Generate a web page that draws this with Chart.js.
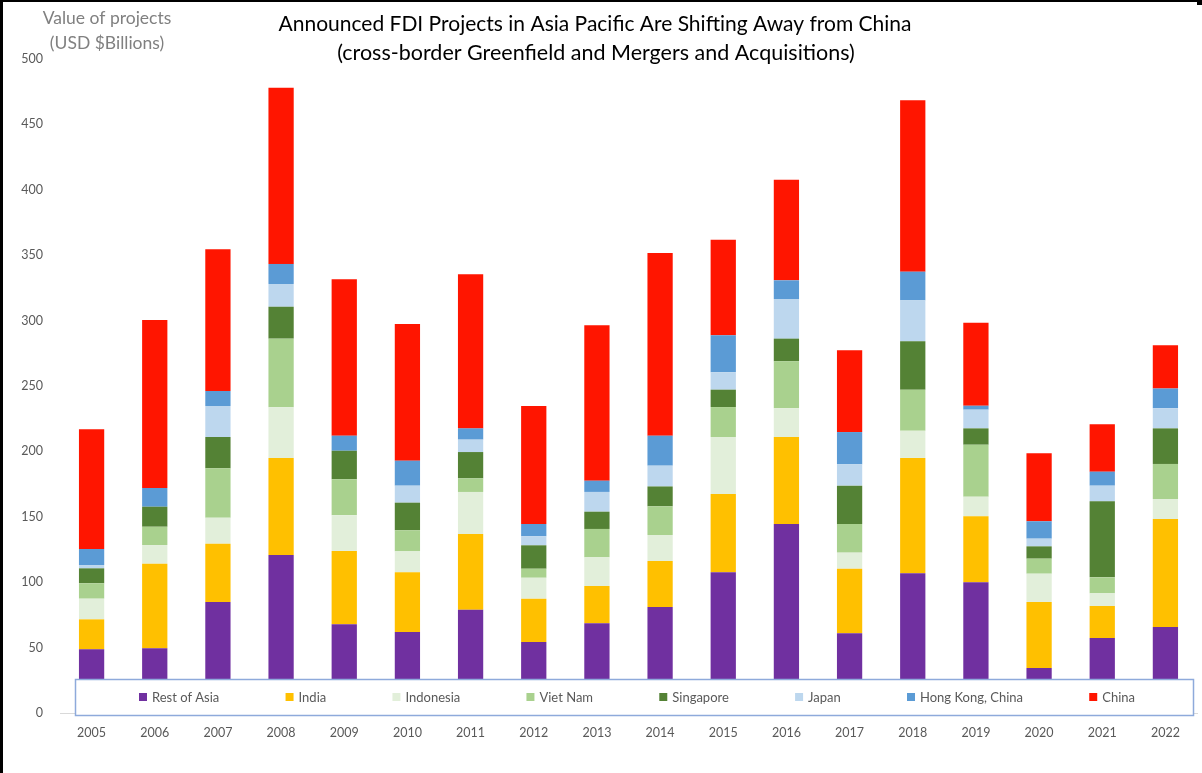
<!DOCTYPE html>
<html><head><meta charset="utf-8">
<script src="https://cdn.jsdelivr.net/npm/chart.js"></script>
<style>
html,body{margin:0;padding:0;background:#fff;overflow:hidden}
canvas{display:block}
</style></head><body>
<canvas id="c" width="1202" height="773"></canvas>
<script>
const years = ['2005','2006','2007','2008','2009','2010','2011','2012','2013','2014','2015','2016','2017','2018','2019','2020','2021','2022'];
const restOfAsia = [48.7,49.5,84.9,120.8,67.8,61.9,79.0,54.3,68.6,81.0,107.6,144.5,60.9,106.8,99.9,34.4,57.3,65.7];
const india      = [22.9,64.6,44.5,74.2,56.1,45.7,57.9,33.1,28.5,35.2,59.8,66.5,49.4,88.2,50.5,50.5,24.5,82.6];
const indonesia  = [15.8,14.3,19.9,38.7,27.2,16.0,32.1,16.0,21.9,19.9,43.6,22.0,12.3,20.8,15.0,21.6,9.7,15.3];
const vietNam    = [11.8,14.0,37.8,52.5,27.6,16.1,10.4,6.9,21.7,21.9,22.9,35.9,21.9,31.4,39.7,11.5,12.2,26.8];
const singapore  = [11.4,15.3,23.9,24.4,21.8,21.1,20.1,17.9,13.2,15.2,13.3,17.3,29.3,37.0,12.5,9.4,58.1,27.2];
const japan      = [2.5,0,23.7,17.4,0,13.0,9.5,6.9,15.1,15.9,13.3,30.3,16.3,31.3,14.3,5.9,12.0,15.4];
const hongKong   = [12.3,14.3,11.5,15.3,11.5,19.1,8.6,9.4,8.6,22.9,28.3,14.3,24.7,21.9,3.0,13.3,10.7,15.1];
const china      = [91.5,128.5,108.3,134.8,119.6,104.5,117.8,90.2,118.8,139.7,73.1,76.9,62.5,131.0,63.5,51.9,36.2,33.1];
const seriesNames = ['Rest of Asia','India','Indonesia','Viet Nam','Singapore','Japan','Hong Kong, China','China'];
const seriesColors = ['#7030a0','#ffc000','#e2efda','#a9d18e','#548235','#bdd7ee','#5b9bd5','#ff1500'];
const seriesValues = [restOfAsia,india,indonesia,vietNam,singapore,japan,hongKong,china];
const titleLines = ['Announced FDI Projects in Asia Pacific Are Shifting Away from China','(cross-border Greenfield and Mergers and Acquisitions)'];
const yTitleLines = ['Value of projects','(USD $Billions)'];

const FONT = 'Lato, "Open Sans", sans-serif';

const overlay = {
  id: 'overlay',
  afterDraw(chart) {
    const ctx = chart.ctx;
    ctx.save();
    // title
    ctx.fillStyle = '#000';
    ctx.textAlign = 'center';
    ctx.textBaseline = 'middle';
    ctx.font = '21px ' + FONT;
    ctx.fillText(titleLines[0], 595, 24);
    ctx.font = '21.5px ' + FONT;
    ctx.fillText(titleLines[1], 596, 53);
    // y title
    ctx.fillStyle = '#808080';
    ctx.font = '17.5px ' + FONT;
    ctx.fillText(yTitleLines[0], 107, 18);
    ctx.fillText(yTitleLines[1], 107, 43);
    // legend box
    const bx = 75.5, by = 679.5, bw = 1118, bh = 36;
    ctx.fillStyle = '#fff';
    ctx.fillRect(bx, by, bw, bh);
    ctx.strokeStyle = '#8eaadb';
    ctx.lineWidth = 1.5;
    ctx.strokeRect(bx, by, bw, bh);
    ctx.font = '13px ' + FONT;
    ctx.textAlign = 'left';
    const items = chart.data.datasets.map(d => ({label: d.label, color: d.backgroundColor, w: ctx.measureText(d.label).width}));
    const sum = items.reduce((a, it) => a + 13 + it.w, 0);
    const span = 996;
    const gap = (span - sum) / (items.length - 1);
    let x = 637 - span / 2;
    const cy = 697;
    items.forEach(it => {
      ctx.fillStyle = it.color;
      ctx.fillRect(x, cy - 4, 8, 8);
      ctx.fillStyle = '#595959';
      ctx.fillText(it.label, x + 13, cy + 0.5);
      x += 13 + it.w + gap;
    });
    // frame
    ctx.fillStyle = '#000';
    ctx.fillRect(0, 0, 3, chart.height);
    ctx.fillRect(0, 0, 1197, 2);
    ctx.fillRect(1197, 0, 5, 5);
    ctx.restore();
  }
};

new Chart(document.getElementById('c'), {
  type: 'bar',
  data: {
    labels: years,
    datasets: seriesNames.map((n, i) => ({
      label: n,
      data: seriesValues[i],
      backgroundColor: seriesColors[i],
      borderWidth: 0,
      barPercentage: 0.4,
      categoryPercentage: 1.0
    }))
  },
  options: {
    responsive: false,
    animation: false,
    devicePixelRatio: 1,
    layout: { padding: { top: 59, left: 0, right: 5, bottom: 20 } },
    plugins: { legend: { display: false }, title: { display: false }, tooltip: { enabled: false } },
    scales: {
      x: {
        stacked: true,
        grid: { display: false, drawTicks: false },
        border: { display: true, color: '#d9d9d9', width: 1 },
        ticks: { color: '#595959', font: { family: FONT, size: 12.5 }, padding: 12, maxRotation: 0 },
        afterFit(s) { s.height = 40; }
      },
      y: {
        stacked: true,
        min: 0, max: 500,
        grid: { display: false, drawTicks: false },
        border: { display: false },
        ticks: { stepSize: 50, color: '#595959', font: { family: FONT, size: 12.5 }, padding: 17 },
        afterFit(s) { s.width = 60; }
      }
    }
  },
  plugins: [overlay]
});
</script>
</body></html>
